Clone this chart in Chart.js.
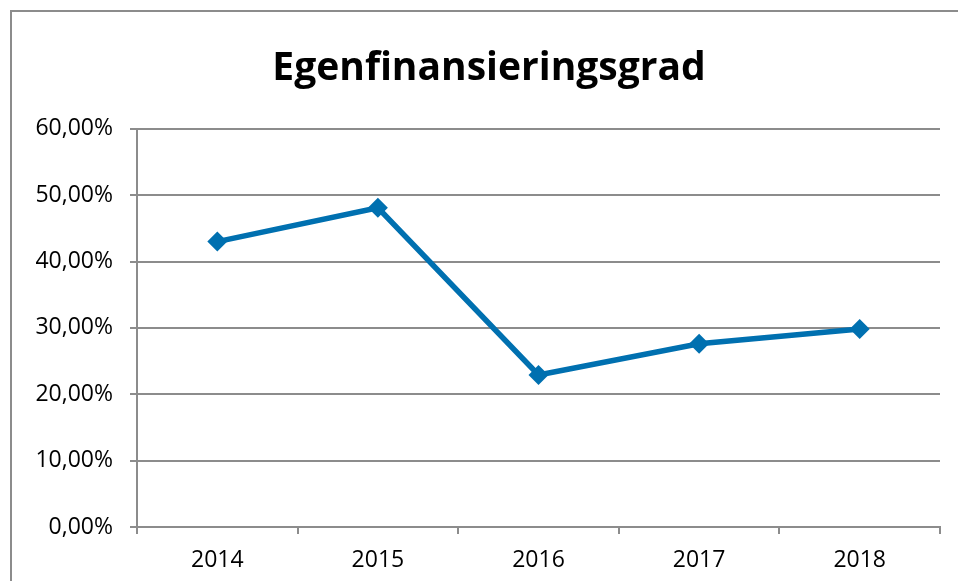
<!DOCTYPE html>
<html>
<head>
<meta charset="utf-8">
<script src="https://cdn.jsdelivr.net/npm/chart.js@4/dist/chart.umd.min.js"></script>
<style>
  html, body { margin: 0; padding: 0; background: #fff; overflow: hidden; }
  .frame { position: absolute; left: 10px; top: 10px; width: 1000px; height: 600px;
           border-left: 2px solid #8c8c8c; border-top: 2px solid #8c8c8c; }
  .wrap { position: absolute; left: -10px; top: 0; width: 960px; height: 581px; }
</style>
</head>
<body>
<div class="frame"></div>
<div class="wrap"><canvas id="chart" width="960" height="581"></canvas></div>
<script>
var years = ["2014", "2015", "2016", "2017", "2018"];
var egenfinansiering = [43.0, 48.1, 22.9, 27.6, 29.85];
var yMin = 0, yMax = 60, yStep = 10;

var grey = "#8c8c8c";
var blue = "#0070b0";
var font = "'Open Sans'";

new Chart(document.getElementById("chart"), {
  type: "line",
  data: {
    labels: years,
    datasets: [{
      label: "Egenfinansieringsgrad",
      data: egenfinansiering,
      borderColor: blue,
      backgroundColor: blue,
      borderWidth: 5.5,
      pointStyle: "rectRot",
      pointRadius: 10,
      pointHoverRadius: 10,
      pointBorderWidth: 0,
      tension: 0
    }]
  },
  options: {
    responsive: false,
    animation: false,
    devicePixelRatio: 1,
    // plot area from x=137 to x=940 on the page, title centred near 489
    layout: { padding: { left: 38, right: 0, top: 0, bottom: 0 } },
    plugins: {
      legend: { display: false },
      tooltip: { enabled: false },
      title: {
        display: true,
        text: "Egenfinansieringsgrad",
        color: "#000",
        font: { family: font, size: 39, weight: "bold" },
        padding: { top: 45, bottom: 37 }
      }
    },
    scales: {
      x: {
        offset: true,
        grid: { display: true, offset: true, drawOnChartArea: false, drawTicks: true,
                tickLength: 7, color: grey, lineWidth: 2 },
        border: { color: grey, width: 2 },
        ticks: { color: "#000", font: { family: font, size: 23 }, padding: 13 },
        afterFit: function (s) { s.height = 54; }
      },
      y: {
        min: yMin, max: yMax,
        ticks: {
          stepSize: yStep,
          color: "#000",
          font: { family: font, size: 23 },
          padding: 17,
          callback: function (v) { return v.toFixed(2).replace(".", ",") + "%"; }
        },
        grid: { color: grey, lineWidth: 2, drawTicks: true, tickLength: 7 },
        border: { color: grey, width: 2 },
        afterFit: function (s) { s.width = 109; }
      }
    }
  }
});
</script>
</body>
</html>
